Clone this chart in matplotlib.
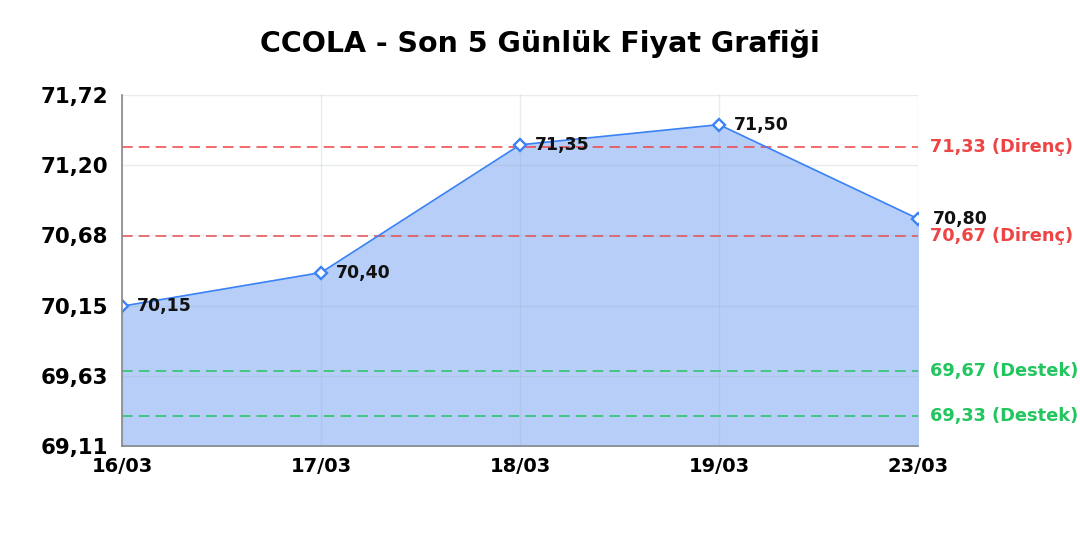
import numpy as np
import matplotlib.pyplot as plt

dates = ['16/03', '17/03', '18/03', '19/03', '23/03']
prices = [70.15, 70.40, 71.35, 71.50, 70.80]
resistance = [71.33, 70.67]
support = [69.67, 69.33]
y_min = 69.11
y_max = 71.72

plt.rcParams['font.family'] = ['DejaVu Sans']

fig = plt.figure(figsize=(10.8, 5.4), dpi=100)
ax = fig.add_axes([0.113, 0.174, 0.737, 0.650])

x = np.arange(len(dates))
ax.fill_between(x, prices, y_min, color='#b7cff8', zorder=1)
ax.plot(x, prices, color='#3b82f6', lw=1.2, zorder=3)
ax.plot(x, prices, ls='none', marker='D', ms=6.5, mfc='white', mec='#3b82f6', mew=1.7, zorder=4)

for xi, p in zip(x, prices):
    ax.annotate(f'{p:.2f}'.replace('.', ','), (xi, p), xytext=(11, 0), textcoords='offset points',
                va='center', ha='left', fontsize=12.5, fontweight='bold', color='#111111', zorder=5)

for v in resistance:
    ax.axhline(v, color='#ef4444', ls=(0, (7, 4)), lw=1.1, zorder=2)
    ax.text(1.015, v, f'{v:.2f}'.replace('.', ',') + ' (Direnç)', transform=ax.get_yaxis_transform(),
            va='center', ha='left', fontsize=12.8, fontweight='bold', color='#ef4444')
for v in support:
    ax.axhline(v, color='#22c55e', ls=(0, (7, 4)), lw=1.1, zorder=2)
    ax.text(1.015, v, f'{v:.2f}'.replace('.', ',') + ' (Destek)', transform=ax.get_yaxis_transform(),
            va='center', ha='left', fontsize=12.8, fontweight='bold', color='#22c55e')

ticks = np.linspace(y_min, y_max, 6)
ax.set_yticks(ticks)
ax.set_yticklabels([f'{t:.2f}'.replace('.', ',') for t in ticks], fontsize=15.4, fontweight='bold')
ax.set_xticks(x)
ax.set_xticklabels(dates, fontsize=14, fontweight='bold')
ax.set_xlim(0, len(dates) - 1)
ax.set_ylim(y_min, y_max)
ax.tick_params(axis='y', length=0, pad=10)
ax.tick_params(axis='x', length=0, pad=8)
ax.set_axisbelow(False)
ax.grid(True, color='#9aa4b8', alpha=0.22, lw=1, zorder=1.5)
for s in ['top', 'right']:
    ax.spines[s].set_visible(False)
for s in ['left', 'bottom']:
    ax.spines[s].set_color('#888888')
    ax.spines[s].set_linewidth(1.2)
    ax.spines[s].set_zorder(6)

fig.suptitle('CCOLA - Son 5 Günlük Fiyat Grafiği', y=0.945, fontsize=20.5, fontweight='bold')

fig.savefig('out.png', dpi=100)
